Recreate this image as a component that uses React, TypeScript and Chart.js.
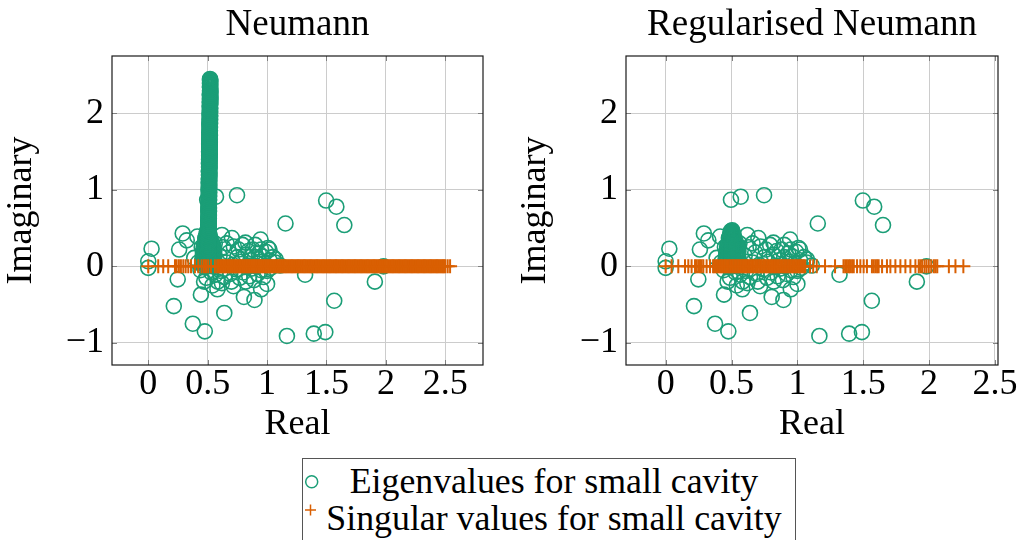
import React, { useEffect, useRef } from 'react';
import { Chart, registerables } from 'chart.js';

Chart.register(...registerables);

const GREEN = '#1b9e77';
const ORANGE = '#d95f02';
const FONT = '"Liberation Serif", "Times New Roman", serif';

const panelTitles = ['Neumann', 'Regularised Neumann'];
const xAxisTitle = 'Real';
const yAxisTitle = 'Imaginary';
const legendLabels = ['Eigenvalues for small cavity', 'Singular values for small cavity'];

const xTicks = [0, 0.5, 1, 1.5, 2, 2.5];
const yTicks = [-1, 0, 1, 2];

// scattered eigenvalues (re, im), common to both panels
const outlierEigs: [number, number][] = [
  [0.0, 0.066], [0.0, -0.02], [0.028, 0.23], [0.215, -0.52], [0.248, -0.17], [0.26, 0.22],
  [0.29, 0.43], [0.324, 0.34], [0.375, -0.75], [0.476, -0.85], [0.443, -0.37], [0.582, -0.3],
  [0.64, -0.61], [0.496, 0.87], [0.57, 0.91], [0.747, 0.93], [0.704, 0.37], [0.62, 0.41],
  [0.413, 0.39], [0.818, 0.31], [0.945, 0.35], [1.02, 0.22], [0.95, 0.22], [1.07, 0.05],
  [1.11, 0.01], [1.155, 0.56], [1.497, 0.86], [1.583, 0.78], [1.65, 0.54], [1.32, -0.11],
  [1.907, -0.2], [1.98, 0.0], [1.565, -0.45], [1.167, -0.91], [1.393, -0.88], [1.49, -0.86],
  [0.805, -0.4], [0.894, -0.44], [0.95, -0.3], [1.0, -0.23], [0.717, -0.26], [0.585, -0.2],
];

// dense cluster of eigenvalues near the real axis
const clusterEigs: [number, number][] = [
  [0.387, 0.11], [0.42, 0.05], [0.44, -0.05], [0.46, 0.15], [0.489, 0.24], [0.489, -0.15],
  [0.52, 0.08], [0.53, -0.08], [0.55, 0.2], [0.565, -0.11], [0.58, 0.02], [0.6, 0.14],
  [0.61, -0.06], [0.63, 0.25], [0.64, -0.14], [0.66, 0.05], [0.68, 0.18], [0.69, -0.1],
  [0.71, 0.02], [0.72, 0.26], [0.74, -0.04], [0.75, 0.12], [0.77, -0.15], [0.78, 0.06],
  [0.793, 0.28], [0.8, -0.08], [0.82, 0.15], [0.83, 0.0], [0.843, 0.2], [0.85, -0.13],
  [0.86, 0.08], [0.87, -0.03], [0.88, 0.22], [0.89, -0.18], [0.9, 0.12], [0.91, 0.0],
  [0.92, -0.1], [0.93, 0.17], [0.94, 0.06], [0.95, -0.05], [0.96, 0.13], [0.97, -0.14],
  [0.98, 0.04], [0.99, 0.19], [1.0, -0.06], [1.008, 0.24], [1.02, 0.08], [1.03, -0.02],
  [1.05, 0.12], [1.072, 0.09], [0.7, -0.2], [0.62, -0.22], [0.56, 0.3], [0.66, 0.3],
  [0.45, 0.25], [0.47, -0.2], [0.82, -0.2], [0.9, 0.28], [0.76, 0.22], [0.54, -0.25],
];

// accumulation of eigenvalues just above 0.5
const blobEigs: [number, number][] = [
  [0.47, 0.02], [0.53, 0.02], [0.5, 0.03], [0.46, 0.06], [0.54, 0.06], [0.49, 0.08],
  [0.52, 0.1], [0.47, 0.12], [0.55, 0.12], [0.5, 0.14], [0.48, 0.16], [0.53, 0.17],
  [0.46, 0.19], [0.55, 0.2], [0.51, 0.21], [0.48, 0.23], [0.53, 0.24], [0.47, 0.26],
  [0.55, 0.26], [0.5, 0.28], [0.48, 0.3], [0.53, 0.31], [0.49, 0.33], [0.52, 0.34],
  [0.5, 0.36], [0.48, 0.37], [0.52, 0.38], [0.5, 0.4], [0.49, 0.42], [0.51, 0.43],
  [0.5, 0.45], [0.505, 0.47], [0.495, 0.46], [0.515, 0.41], [0.485, 0.39], [0.545, 0.16],
  [0.455, 0.1], [0.535, 0.29], [0.465, 0.22], [0.51, 0.07],
];
const blobSideEigs: [number, number][] = [
  [0.465, 0.0], [0.47, 0.025], [0.465, 0.05], [0.47, 0.075], [0.465, 0.1], [0.47, 0.125],
  [0.465, 0.15], [0.47, 0.175], [0.465, 0.2], [0.47, 0.225], [0.468, 0.25], [0.472, 0.275],
  [0.475, 0.3], [0.48, 0.325],
  [0.545, 0.0], [0.55, 0.025], [0.545, 0.05], [0.55, 0.075], [0.545, 0.1], [0.55, 0.125],
  [0.545, 0.15], [0.55, 0.175], [0.545, 0.2], [0.55, 0.225], [0.543, 0.25], [0.54, 0.275],
  [0.535, 0.3], [0.53, 0.325],
];
const blobColRe = [
  0.5, 0.508, 0.503, 0.51, 0.498, 0.506, 0.502, 0.509, 0.5, 0.507,
  0.503, 0.51, 0.499, 0.506, 0.502, 0.508, 0.5, 0.507, 0.503, 0.509,
  0.501, 0.506, 0.503, 0.508, 0.5, 0.506, 0.502, 0.507, 0.501, 0.505,
  0.503, 0.506, 0.502, 0.505, 0.503, 0.505, 0.503, 0.504,
];
const blobColIm = [
  0.0, 0.0125, 0.025, 0.0375, 0.05, 0.0625, 0.075, 0.0875, 0.1, 0.1125,
  0.125, 0.1375, 0.15, 0.1625, 0.175, 0.1875, 0.2, 0.2125, 0.225, 0.2375,
  0.25, 0.2625, 0.275, 0.2875, 0.3, 0.3125, 0.325, 0.3375, 0.35, 0.3625,
  0.375, 0.3875, 0.4, 0.4125, 0.425, 0.4375, 0.45, 0.4625,
];

// Neumann only: vertical band of eigenvalues
const bandRe = [
  0.5, 0.507, 0.502, 0.508, 0.503, 0.506, 0.501, 0.508, 0.504, 0.507,
  0.503, 0.508, 0.504, 0.509, 0.505, 0.508, 0.504, 0.509, 0.506, 0.509,
  0.505, 0.51, 0.506, 0.51, 0.507, 0.511, 0.506, 0.51, 0.508, 0.511,
  0.507, 0.512, 0.508, 0.512, 0.509, 0.512, 0.508, 0.513, 0.51, 0.513,
  0.509, 0.514, 0.51, 0.514, 0.511, 0.515, 0.51, 0.515, 0.512, 0.515,
  0.511, 0.516, 0.512, 0.516, 0.513, 0.517, 0.512, 0.517, 0.514, 0.517,
  0.513, 0.518, 0.514, 0.518, 0.515, 0.518, 0.514, 0.519, 0.516, 0.519,
  0.515, 0.52, 0.516, 0.52, 0.517, 0.52, 0.516, 0.521, 0.518, 0.521,
  0.517, 0.522, 0.518, 0.522, 0.519, 0.522, 0.518, 0.523, 0.52, 0.522,
  0.519, 0.522, 0.52, 0.521, 0.52,
];
const bandIm = [
  0.1, 0.125, 0.15, 0.175, 0.2, 0.225, 0.25, 0.275, 0.3, 0.325,
  0.35, 0.375, 0.4, 0.425, 0.45, 0.475, 0.5, 0.525, 0.55, 0.575,
  0.6, 0.625, 0.65, 0.675, 0.7, 0.725, 0.75, 0.775, 0.8, 0.825,
  0.85, 0.875, 0.9, 0.925, 0.95, 0.975, 1.0, 1.025, 1.05, 1.075,
  1.1, 1.125, 1.15, 1.175, 1.2, 1.225, 1.25, 1.275, 1.3, 1.325,
  1.35, 1.375, 1.4, 1.425, 1.45, 1.475, 1.5, 1.525, 1.55, 1.575,
  1.6, 1.625, 1.65, 1.675, 1.7, 1.725, 1.75, 1.775, 1.8, 1.825,
  1.85, 1.875, 1.9, 1.925, 1.95, 1.975, 2.0, 2.025, 2.05, 2.075,
  2.1, 2.125, 2.15, 2.175, 2.2, 2.225, 2.25, 2.275, 2.3, 2.325,
  2.35, 2.375, 2.4, 2.425, 2.45,
];
const bandRe2 = [
  0.505, 0.501, 0.506, 0.503, 0.507, 0.502, 0.507, 0.504, 0.506, 0.503,
  0.507, 0.505, 0.508, 0.504, 0.509, 0.506, 0.508, 0.505, 0.509, 0.507,
  0.509, 0.506, 0.51, 0.508, 0.51, 0.507, 0.511, 0.509, 0.511, 0.508,
  0.511, 0.509, 0.512, 0.51, 0.513, 0.509, 0.512, 0.511, 0.513, 0.51,
  0.513, 0.511, 0.514, 0.512, 0.515, 0.511, 0.514, 0.513, 0.515, 0.512,
  0.515, 0.513, 0.516, 0.514, 0.517, 0.513, 0.516, 0.515, 0.517, 0.514,
  0.517, 0.515, 0.518, 0.516, 0.519, 0.515, 0.518, 0.517, 0.519, 0.516,
  0.519, 0.517, 0.52, 0.518, 0.521, 0.517, 0.52, 0.519, 0.521, 0.518,
  0.521, 0.519, 0.522, 0.52, 0.523, 0.519, 0.522, 0.521, 0.522, 0.52,
  0.521, 0.52, 0.522, 0.52,
];
const bandIm2 = [
  0.1125, 0.1375, 0.1625, 0.1875, 0.2125, 0.2375, 0.2625, 0.2875, 0.3125, 0.3375,
  0.3625, 0.3875, 0.4125, 0.4375, 0.4625, 0.4875, 0.5125, 0.5375, 0.5625, 0.5875,
  0.6125, 0.6375, 0.6625, 0.6875, 0.7125, 0.7375, 0.7625, 0.7875, 0.8125, 0.8375,
  0.8625, 0.8875, 0.9125, 0.9375, 0.9625, 0.9875, 1.0125, 1.0375, 1.0625, 1.0875,
  1.1125, 1.1375, 1.1625, 1.1875, 1.2125, 1.2375, 1.2625, 1.2875, 1.3125, 1.3375,
  1.3625, 1.3875, 1.4125, 1.4375, 1.4625, 1.4875, 1.5125, 1.5375, 1.5625, 1.5875,
  1.6125, 1.6375, 1.6625, 1.6875, 1.7125, 1.7375, 1.7625, 1.7875, 1.8125, 1.8375,
  1.8625, 1.8875, 1.9125, 1.9375, 1.9625, 1.9875, 2.0125, 2.0375, 2.0625, 2.0875,
  2.1125, 2.1375, 2.1625, 2.1875, 2.2125, 2.2375, 2.2625, 2.2875, 2.3125, 2.3375,
  2.3625, 2.3875, 2.4125, 2.4375,
];

// singular values (all real)
const svNeumann = [
  0.0, 0.084, 0.126, 0.168, 0.225, 0.239, 0.258, 0.275, 0.295, 0.315, 0.337, 0.36, 0.393,
  0.421, 0.449, 0.469, 0.486, 0.505, 0.528, 0.561,
  0.58, 0.6, 0.62, 0.64, 0.66, 0.68, 0.7, 0.72, 0.74, 0.76, 0.78, 0.8, 0.82, 0.84, 0.86,
  0.88, 0.9, 0.92, 0.94, 0.96, 0.98, 1.0, 1.02, 1.04, 1.06, 1.08, 1.1, 1.12, 1.14, 1.16,
  1.18, 1.2, 1.22, 1.24, 1.26, 1.28, 1.3, 1.32, 1.34, 1.36, 1.38, 1.4, 1.42, 1.44, 1.46,
  1.48, 1.5, 1.52, 1.54, 1.56, 1.58, 1.6, 1.62, 1.64, 1.66, 1.68, 1.7, 1.72, 1.74, 1.76,
  1.78, 1.8, 1.82, 1.84, 1.86, 1.88, 1.9, 1.92, 1.94, 1.96, 1.98, 2.0, 2.02, 2.04, 2.06,
  2.08, 2.1, 2.12, 2.14, 2.16, 2.18, 2.2, 2.22, 2.24, 2.26, 2.28, 2.3, 2.32, 2.34, 2.36,
  2.38, 2.4, 2.42, 2.44, 2.46, 2.48, 2.5, 2.52, 2.54,
];
const svNeumannDense = [
  0.59, 0.61, 0.63, 0.65, 0.67, 0.69, 0.71, 0.73, 0.75, 0.77, 0.79, 0.81, 0.83, 0.85, 0.87,
  0.89, 0.91, 0.93, 0.95, 0.97, 0.99, 1.01, 1.03, 1.05, 1.07, 1.09, 1.11, 1.13, 1.15, 1.17,
  1.19, 1.21, 1.23, 1.25, 1.27, 1.29, 1.31, 1.33, 1.35, 1.37, 1.39, 1.41, 1.43, 1.45, 1.47,
  1.49, 1.51, 1.53, 1.55, 1.57, 1.59, 1.61, 1.63, 1.65, 1.67, 1.69, 1.71, 1.73, 1.75, 1.77,
  1.79, 1.81, 1.83, 1.85, 1.87, 1.89, 1.91, 1.93, 1.95, 1.97, 1.99, 2.01, 2.03, 2.05, 2.07,
  2.09, 2.11, 2.13, 2.15, 2.17, 2.19, 2.21, 2.23, 2.25, 2.27, 2.29, 2.31, 2.33, 2.35, 2.37,
  2.39, 2.41, 2.43, 2.45, 2.47, 2.49,
];
const svRegularised = [
  0.0, 0.045, 0.096, 0.147, 0.172, 0.197, 0.223, 0.235, 0.248, 0.261, 0.273, 0.286, 0.311,
  0.337, 0.36, 0.38, 0.4, 0.42, 0.44, 0.46, 0.48, 0.5, 0.52, 0.54, 0.56, 0.58, 0.6, 0.62,
  0.64, 0.66, 0.68, 0.7, 0.72, 0.74, 0.76, 0.78, 0.8, 0.82, 0.84, 0.86, 0.88, 0.9, 0.92,
  0.94, 0.96, 0.98, 1.0, 1.02, 1.04, 1.06, 1.096, 1.12, 1.147, 1.21, 1.286, 1.35, 1.363,
  1.376, 1.389, 1.4, 1.415, 1.428, 1.453, 1.478, 1.503, 1.528, 1.566, 1.579, 1.592, 1.605,
  1.617, 1.643, 1.68, 1.706, 1.744, 1.782, 1.82, 1.858, 1.896, 1.921, 1.934, 1.947, 1.965,
  1.98, 1.997, 2.016, 2.036, 2.049, 2.062, 2.15, 2.2, 2.26,
];
const svRegularisedDense = [
  0.37, 0.39, 0.41, 0.43, 0.45, 0.47, 0.49, 0.51, 0.53, 0.55, 0.57, 0.59, 0.61, 0.63, 0.65,
  0.67, 0.69, 0.71, 0.73, 0.75, 0.77, 0.79, 0.81, 0.83, 0.85, 0.87, 0.89, 0.91, 0.93, 0.95,
  0.97, 0.99, 1.01, 1.03, 1.05,
];

const Y_MIN = -1.29;
const Y_MAX = 2.75;
const X_MIN = [-0.305, -0.301];
const X_MAX = [2.817, 2.523];

const fmt = (v: number) => (v < 0 ? '\u2212' + Math.abs(v) : String(v));

const toPts = (pairs: [number, number][]) => pairs.map(([x, y]) => ({ x, y }));
const zipPts = (re: number[], im: number[]) => re.map((x, i) => ({ x, y: im[i] }));

const commonEigs = [
  ...toPts(outlierEigs),
  ...toPts(clusterEigs),
  ...toPts(blobEigs),
  ...toPts(blobSideEigs),
  ...zipPts(blobColRe, blobColIm),
];
const neumannEigs = [...commonEigs, ...zipPts(bandRe, bandIm), ...zipPts(bandRe2, bandIm2)];
const regularisedEigs = commonEigs;

const framePlugin = {
  id: 'frame',
  afterDraw(chart: any) {
    const { ctx, chartArea: a, scales } = chart;
    ctx.save();
    ctx.strokeStyle = '#808080';
    ctx.lineWidth = 1;
    const tl = 5;
    ctx.beginPath();
    for (const v of xTicks) {
      const px = Math.round(scales.x.getPixelForValue(v)) + 0.5;
      ctx.moveTo(px, a.bottom);
      ctx.lineTo(px, a.bottom - tl);
      ctx.moveTo(px, a.top);
      ctx.lineTo(px, a.top + tl);
    }
    for (const v of yTicks) {
      const py = Math.round(scales.y.getPixelForValue(v)) + 0.5;
      ctx.moveTo(a.left, py);
      ctx.lineTo(a.left + tl, py);
      ctx.moveTo(a.right, py);
      ctx.lineTo(a.right - tl, py);
    }
    ctx.stroke();
    ctx.strokeStyle = '#1a1a1a';
    ctx.lineWidth = 1.2;
    ctx.strokeRect(a.left, a.top, a.right - a.left, a.bottom - a.top);
    ctx.restore();
  },
};

const tickFont = { family: FONT, size: 36, weight: 'normal' as const, lineHeight: 1.2 };

function Panel(props: {
  idx: number;
  eigs: { x: number; y: number }[];
  svs: number[];
  left: number;
  width: number;
  padRight: number;
}) {
  const ref = useRef<HTMLCanvasElement>(null);
  useEffect(() => {
    const { idx, eigs, svs, padRight } = props;
    const chart = new Chart(ref.current!, {
      type: 'scatter',
      data: {
        datasets: [
          {
            label: legendLabels[1],
            data: svs.map((x) => ({ x, y: 0 })),
            pointStyle: 'cross',
            pointRadius: 7,
            pointBorderWidth: 2,
            pointBorderColor: ORANGE,
            pointBackgroundColor: ORANGE,
            borderColor: ORANGE,
            backgroundColor: ORANGE,
            order: 1,
          },
          {
            label: legendLabels[0],
            data: eigs,
            pointStyle: 'circle',
            pointRadius: 7.5,
            pointBorderWidth: 1.6,
            pointBorderColor: GREEN,
            pointBackgroundColor: 'rgba(0,0,0,0)',
            borderColor: GREEN,
            backgroundColor: 'rgba(0,0,0,0)',
            order: 2,
          },
        ],
      },
      options: {
        responsive: false,
        animation: false,
        events: [],
        layout: { padding: { top: 0, right: padRight, bottom: 0, left: 0 } },
        plugins: {
          legend: { display: false },
          tooltip: { enabled: false },
          title: {
            display: true,
            text: panelTitles[idx],
            fullSize: false,
            color: '#000',
            font: { family: FONT, size: 37, weight: 'normal', lineHeight: 1.2 },
            padding: { top: 3, bottom: 8.6 },
          },
        },
        scales: {
          x: {
            type: 'linear',
            min: X_MIN[idx],
            max: X_MAX[idx],
            afterFit: (s: any) => {
              s.height = 85;
            },
            afterBuildTicks: (s: any) => {
              s.ticks = xTicks.map((value) => ({ value }));
            },
            ticks: {
              callback: (v: any) => fmt(Number(v)),
              font: tickFont,
              color: '#000',
              padding: -2,
              autoSkip: false,
              maxRotation: 0,
            },
            grid: { color: '#cccccc', drawTicks: false, lineWidth: 1 },
            border: { display: false },
            title: {
              display: true,
              text: xAxisTitle,
              color: '#000',
              font: tickFont,
              padding: { top: 0, bottom: 4 },
            },
          },
          y: {
            type: 'linear',
            min: Y_MIN,
            max: Y_MAX,
            afterFit: (s: any) => {
              s.width = 112;
            },
            afterBuildTicks: (s: any) => {
              s.ticks = yTicks.map((value) => ({ value }));
            },
            ticks: {
              callback: (v: any) => fmt(Number(v)),
              font: tickFont,
              color: '#000',
              padding: 8,
              autoSkip: false,
            },
            grid: { color: '#cccccc', drawTicks: false, lineWidth: 1 },
            border: { display: false },
            title: {
              display: true,
              text: yAxisTitle,
              color: '#000',
              font: tickFont,
              padding: { top: 0, bottom: 0 },
            },
          },
        },
      },
      plugins: [framePlugin],
    });
    return () => chart.destroy();
  }, []);
  return (
    <canvas
      ref={ref}
      width={props.width}
      height={450}
      style={{ position: 'absolute', left: props.left, top: 0, width: props.width, height: 450 }}
    />
  );
}

function Legend() {
  return (
    <div
      style={{
        position: 'absolute',
        left: 302,
        top: 458,
        width: 494,
        height: 110,
        border: '1px solid #555',
        boxSizing: 'border-box',
        fontFamily: FONT,
        fontSize: 35.8,
        color: '#000',
        background: '#fff',
      }}
    >
      <svg width={30} height={70} style={{ position: 'absolute', left: 0, top: 0 }}>
        <circle cx={8.7} cy={22.7} r={6} fill="none" stroke={GREEN} strokeWidth={1.5} />
        <path d="M2 51 H13 M7.5 45.5 V56.5" stroke={ORANGE} strokeWidth={1.5} fill="none" />
      </svg>
      <div
        style={{
          position: 'absolute',
          left: 22,
          width: 458,
          top: 3.5,
          lineHeight: '37px',
          textAlign: 'center',
          whiteSpace: 'nowrap',
        }}
      >
        {legendLabels[0]}
      </div>
      <div
        style={{
          position: 'absolute',
          left: 22,
          width: 458,
          top: 40.5,
          lineHeight: '37px',
          textAlign: 'center',
          whiteSpace: 'nowrap',
        }}
      >
        {legendLabels[1]}
      </div>
    </div>
  );
}

export default function App() {
  return (
    <div
      style={{
        position: 'fixed',
        left: 0,
        top: 0,
        width: 1019,
        height: 540,
        overflow: 'hidden',
        background: '#fff',
      }}
    >
      <Panel
        idx={0}
        eigs={neumannEigs}
        svs={[...svNeumann, ...svNeumannDense]}
        left={0}
        width={500}
        padRight={17}
      />
      <Panel
        idx={1}
        eigs={regularisedEigs}
        svs={[...svRegularised, ...svRegularisedDense]}
        left={514}
        width={520}
        padRight={36}
      />
      <Legend />
    </div>
  );
}
